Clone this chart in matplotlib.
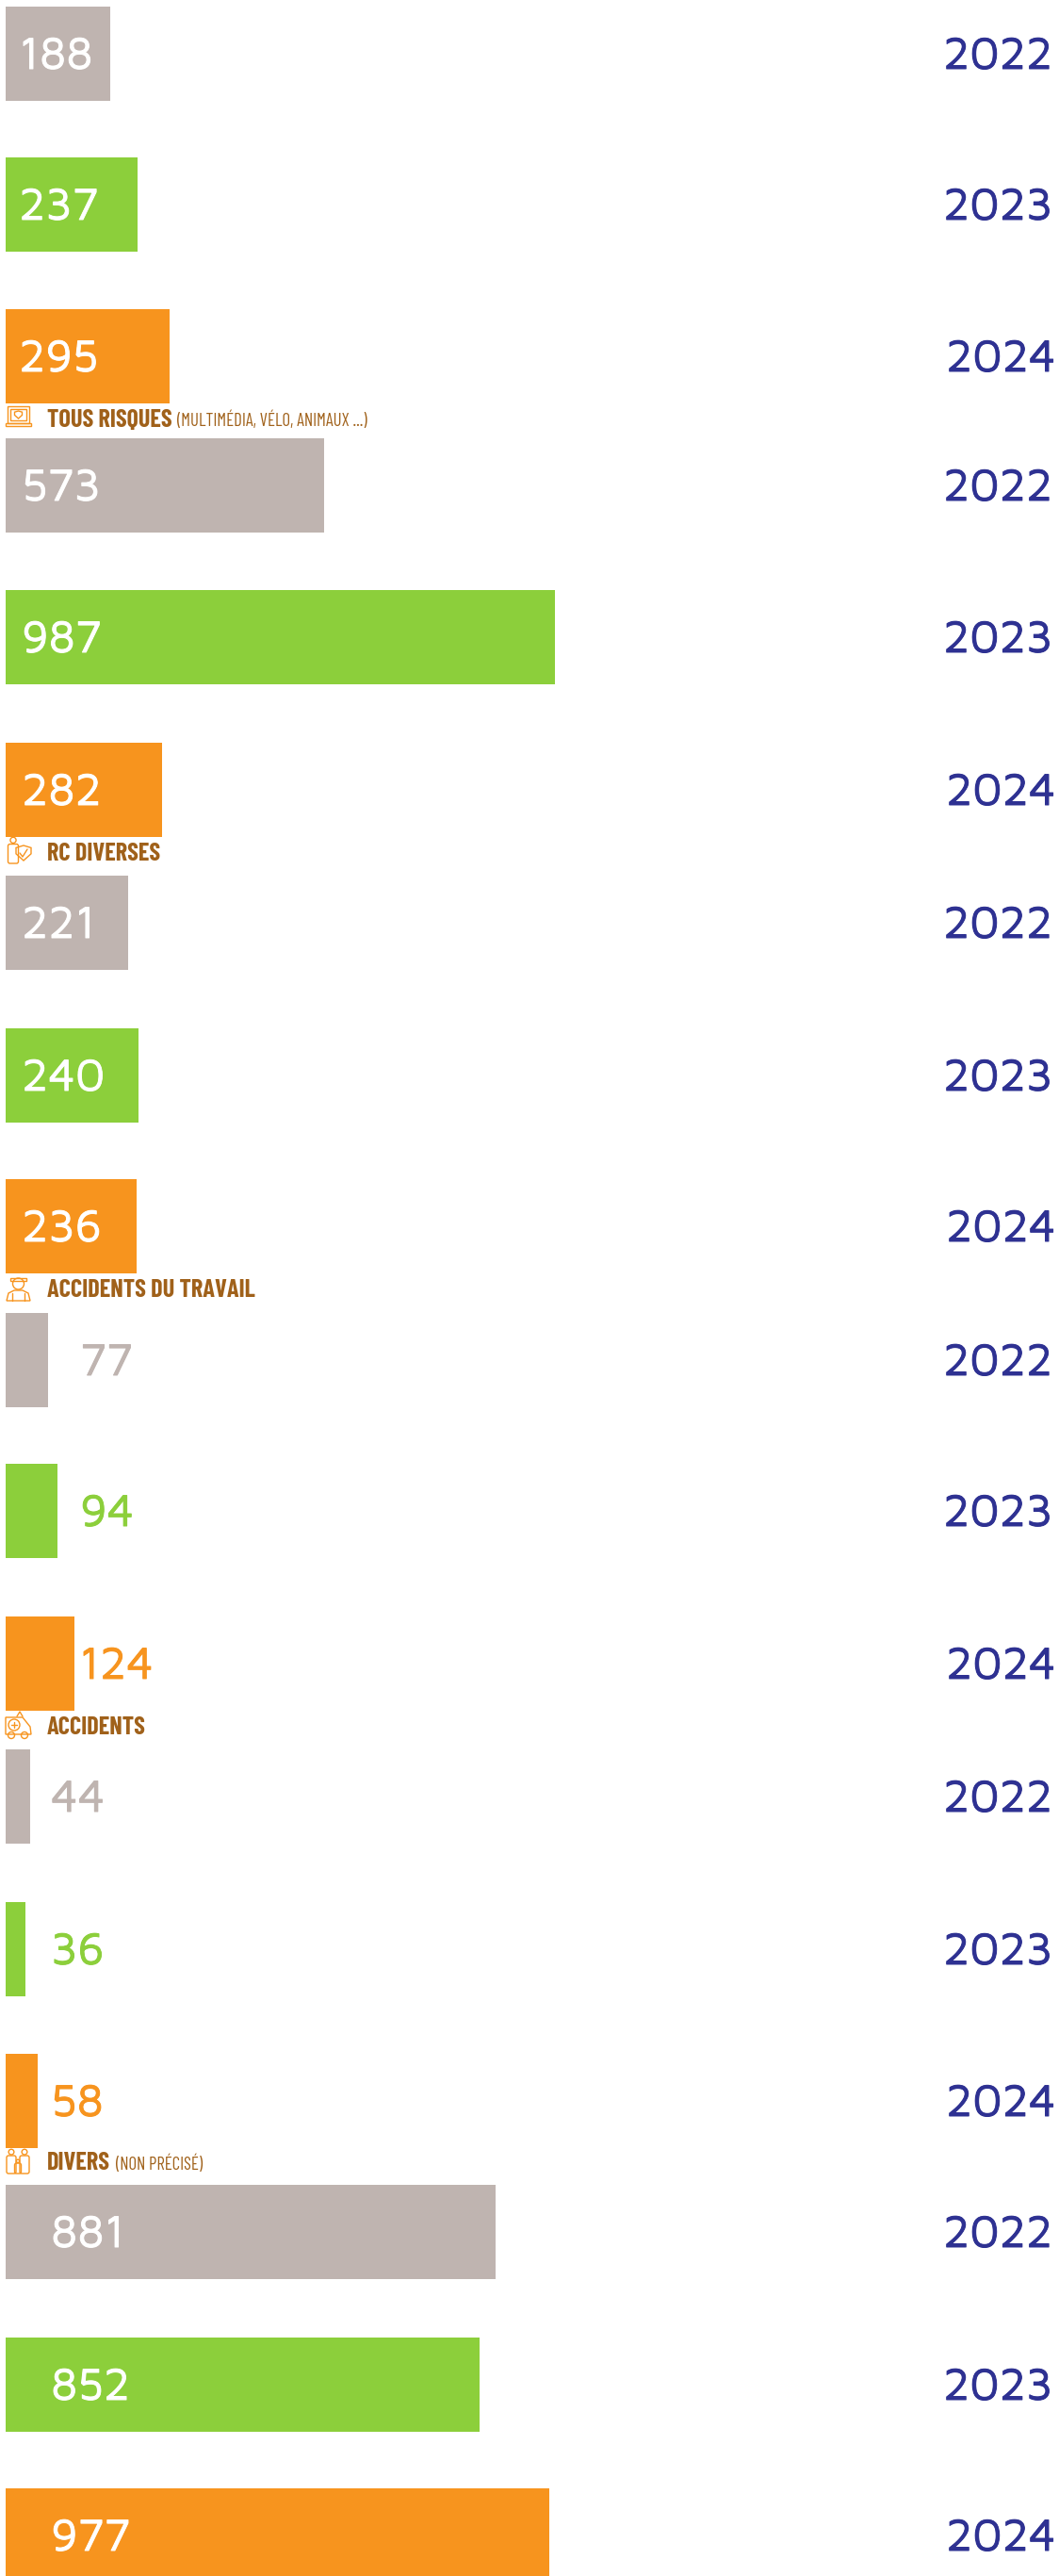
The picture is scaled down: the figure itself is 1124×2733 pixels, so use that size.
import matplotlib
matplotlib.use("Agg")
import matplotlib.pyplot as plt
import matplotlib.patheffects as pe
from matplotlib.patches import Rectangle, Circle, Polygon, FancyBboxPatch

years = ["2022", "2023", "2024"]
tous_risques = [188, 237, 295]
rc_diverses = [573, 987, 282]
accidents_travail = [221, 240, 236]
accidents = [77, 94, 124]
divers = [44, 36, 58]
non_precise = [881, 852, 977]
all_groups = [tous_risques, rc_diverses, accidents_travail, accidents, divers, non_precise]

section_titles = ["TOUS RISQUES", "RC DIVERSES", "ACCIDENTS DU TRAVAIL", "ACCIDENTS", "DIVERS"]
section_notes = ["(MULTIMÉDIA, VÉLO, ANIMAUX ...)", "", "", "", "(NON PRÉCISÉ)"]

# layout, in pixels of the final image
W, H = 1124, 2733
PX_PER_UNIT = 0.591
BAR_X = 5.5
BAR_H = 100
GROUP_TOPS = [[7, 167, 328], [465, 626, 788], [929, 1091, 1251],
              [1393, 1553, 1715], [1856, 2018, 2179], [2318, 2480, 2640]]
LABEL_X = [[20, 20, 20], [23, 23, 23], [23, 23, 23],
           [85, 85, 84], [54, 54, 54], [54, 54, 54]]
SECTION_Y = [443, 903, 1366, 1830, 2293]
NOTE_X = [188, 0, 0, 0, 123]

GREY = "#BFB4B0"
GREEN = "#8CCF3B"
ORANGE = "#F7941E"
NAVY = "#2E3192"
BROWN = "#A0611A"
colors = [GREY, GREEN, ORANGE]

NARROW = ["Barlow Condensed", "Bebas Neue", "Liberation Sans", "DejaVu Sans"]
ROUND = ["Maven Pro", "Mulish", "Inter", "DejaVu Sans"]

fig = plt.figure(figsize=(W / 100, H / 100), dpi=100, facecolor="white")

# value axis for the bars, y in pixels
ax = fig.add_axes([0, 0, 1, 1])
ax.set_xlim(-BAR_X / PX_PER_UNIT, (W - BAR_X) / PX_PER_UNIT)
ax.set_ylim(H, 0)
ax.axis("off")

# pixel axis for texts and icons
px = fig.add_axes([0, 0, 1, 1], facecolor="none")
px.set_xlim(0, W)
px.set_ylim(H, 0)
px.axis("off")


def big_text(x, y, s, color):
    # the regular weight is too thin, thicken it a bit
    t = px.text(x, y, s, color=color, fontsize=35, family=ROUND, va="center_baseline", ha="left")
    t.set_path_effects([pe.withStroke(linewidth=0.7, foreground=color)])


for g, vals in enumerate(all_groups):
    for i, v in enumerate(vals):
        top = GROUP_TOPS[g][i]
        ax.barh(top + BAR_H / 2, v, height=BAR_H, color=colors[i], linewidth=0)
        # big bars get a white label, short ones take the bar colour
        label_color = "white" if g in (0, 1, 2, 5) else colors[i]
        big_text(LABEL_X[g][i], top + BAR_H / 2 - 1, str(v), label_color)
        big_text(1001 if i < 2 else 1004, top + BAR_H / 2 - 1, years[i], NAVY)

for title, note, y, nx in zip(section_titles, section_notes, SECTION_Y, NOTE_X):
    px.text(50, y, title, color=BROWN, fontsize=19, family=NARROW, fontweight="bold",
            va="center_baseline", ha="left")
    if note:
        px.text(nx, y + 1, note, color=BROWN, fontsize=13.5, family=NARROW,
                va="center_baseline", ha="left")


def stroke(p):
    p.set(fill=False, edgecolor=ORANGE, linewidth=1.0)
    px.add_patch(p)


def line(xs, ys):
    px.plot(xs, ys, color=ORANGE, linewidth=1.0, solid_capstyle="round")


def person(cx, top, h, w):
    stroke(Circle((cx, top + h * 0.12), h * 0.11))
    stroke(FancyBboxPatch((cx - w / 2, top + h * 0.27), w, h * 0.73,
                          boxstyle="round,pad=0,rounding_size=2"))


def shield(cx, cy, s):
    stroke(Polygon([(cx - s, cy - s * 0.7), (cx, cy - s), (cx + s, cy - s * 0.7), (cx + s, cy + s * 0.1),
                    (cx, cy + s), (cx - s, cy + s * 0.1)], closed=True))


# laptop
stroke(Rectangle((8, 431), 23, 18))
stroke(Rectangle((11, 434), 17, 12))
stroke(Rectangle((6, 449), 27, 2.5))
shield(19.5, 440, 4)

# person with shield
person(14, 888, 28, 11)
shield(25, 905, 8)
line([21, 24, 29], [905, 909, 901])

# worker
stroke(Circle((19.5, 1362), 6))
stroke(Rectangle((11, 1356), 17, 3))
stroke(Polygon([(7, 1380), (9, 1372), (15, 1369), (24, 1369), (30, 1372), (32, 1380)], closed=True))
line([13, 13], [1372, 1380])
line([26, 26], [1372, 1380])

# ambulance
stroke(Polygon([(6, 1840), (6, 1822), (24, 1822), (32, 1832), (33, 1840)], closed=True))
stroke(Circle((15, 1830), 6))
line([12, 18], [1830, 1830])
line([15, 15], [1827, 1833])
stroke(Circle((12, 1841), 3.5))
stroke(Circle((26, 1841), 3.5))
line([18, 21, 24], [1821, 1816, 1821])

# family
person(12, 2280, 26, 10)
person(26, 2280, 26, 10)
person(19, 2291, 15, 7)

fig.savefig("out.png", dpi=100)
